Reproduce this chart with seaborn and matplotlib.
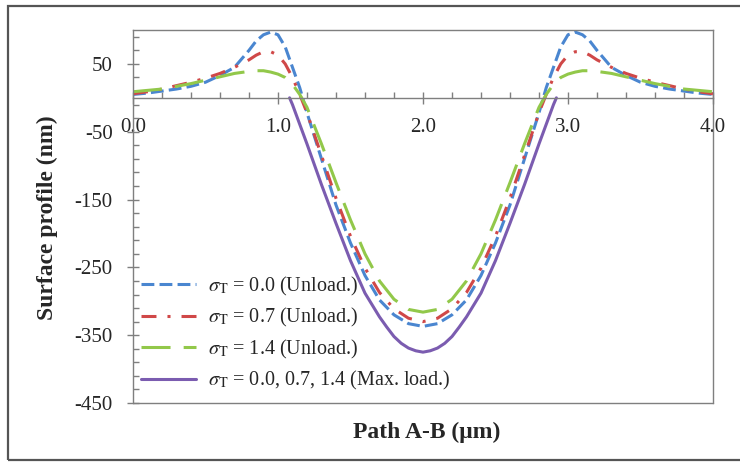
import numpy as np
import pandas as pd
import matplotlib
matplotlib.use("Agg")
import matplotlib.pyplot as plt
from matplotlib.patches import Rectangle
from matplotlib.ticker import MultipleLocator, FixedLocator, FormatStrFormatter
import seaborn as sns

# path positions (um) for the unloaded profiles
x_unload = [0.0, 0.1, 0.2, 0.3, 0.4, 0.5, 0.6, 0.7, 0.8, 0.85, 0.9, 0.95, 1.0, 1.05, 1.1, 1.15, 1.2,
            1.3, 1.4, 1.5, 1.6, 1.7, 1.8, 1.9, 2.0, 2.1, 2.2, 2.3, 2.4, 2.5, 2.6, 2.7, 2.8,
            2.85, 2.9, 2.95, 3.0, 3.05, 3.1, 3.15, 3.2, 3.3, 3.4, 3.5, 3.6, 3.7, 3.8, 3.9, 4.0]

# surface profile (nm)
y_unload_00 = [5, 7, 10, 13, 17, 23, 33, 45, 70, 84, 93, 97, 93, 75, 45, 15, -22,
               -90, -158, -214, -262, -298, -320, -333, -337, -333, -320, -298, -262, -214, -158, -90, -22,
               15, 45, 75, 93, 97, 93, 84, 70, 45, 33, 23, 17, 13, 10, 7, 5]
y_unload_07 = [6, 9, 13, 18, 23, 29, 36, 45, 56, 63, 68, 68, 63, 50, 30, 5, -22,
               -85, -148, -204, -251, -287, -311, -325, -330, -325, -311, -287, -251, -204, -148, -85, -22,
               5, 30, 50, 63, 68, 68, 63, 56, 45, 36, 29, 23, 18, 13, 9, 6]
y_unload_14 = [9, 11, 13, 17, 21, 26, 31, 36, 39, 40, 40, 38, 35, 30, 20, 5, -14,
               -68, -125, -180, -230, -270, -297, -312, -316, -312, -297, -270, -230, -180, -125, -68, -14,
               5, 20, 30, 35, 38, 40, 40, 39, 36, 31, 26, 21, 17, 13, 11, 9]

x_load = [1.08, 1.1, 1.2, 1.3, 1.4, 1.5, 1.6, 1.7, 1.75, 1.8, 1.85, 1.9, 1.95, 2.0,
          2.05, 2.1, 2.15, 2.2, 2.25, 2.3, 2.4, 2.5, 2.6, 2.7, 2.8, 2.9, 2.92]
y_load = [0, -10, -68, -128, -185, -240, -288, -323, -338, -352, -362, -369, -373, -375,
          -373, -369, -362, -352, -338, -323, -288, -240, -185, -128, -68, -10, 0]

labels = [r"$\sigma_\mathrm{T}$ = 0.0 (Unload.)",
          r"$\sigma_\mathrm{T}$ = 0.7 (Unload.)",
          r"$\sigma_\mathrm{T}$ = 1.4 (Unload.)",
          r"$\sigma_\mathrm{T}$ = 0.0, 0.7, 1.4 (Max. load.)"]

sns.set_style("white")
plt.rcParams["font.family"] = ["Liberation Serif", "DejaVu Serif"]
plt.rcParams["mathtext.fontset"] = "stix"
plt.rcParams["axes.unicode_minus"] = False

fig = plt.figure(figsize=(7.4, 4.62), dpi=100)
ax = fig.add_axes([0.1797, 0.1277, 0.7838, 0.8073])

df_u = pd.DataFrame({"x": x_unload, "a": y_unload_00, "b": y_unload_07, "c": y_unload_14})
df_l = pd.DataFrame({"x": x_load, "y": y_load})

lw = 2.2
sns.lineplot(data=df_u, x="x", y="a", ax=ax, color="#4a86d0", lw=lw,
             linestyle=(0, (4.2, 1.7)), label=labels[0])
sns.lineplot(data=df_u, x="x", y="b", ax=ax, color="#d04848", lw=lw,
             linestyle=(0, (4.9, 3.6, 1.0, 3.6)), label=labels[1])
sns.lineplot(data=df_u, x="x", y="c", ax=ax, color="#92c84a", lw=lw,
             linestyle=(0, (9.5, 4.3)), label=labels[2])
sns.lineplot(data=df_l, x="x", y="y", ax=ax, color="#7b5cb0", lw=lw,
             linestyle="-", label=labels[3])

ax.set_xlim(0, 4)
ax.set_ylim(-450, 100)

spine_c = "#7f7f7f"
for s in ax.spines.values():
    s.set_color(spine_c)
    s.set_linewidth(1.0)
ax.spines["bottom"].set_position(("data", 0))
ax.axhline(-450, color=spine_c, lw=1.0, clip_on=False, zorder=5)

ax.xaxis.set_major_locator(MultipleLocator(1.0))
ax.xaxis.set_minor_locator(MultipleLocator(0.2))
ax.xaxis.set_major_formatter(FormatStrFormatter("%.1f"))
ax.yaxis.set_major_locator(FixedLocator([50, -50, -150, -250, -350, -450]))
ax.yaxis.set_minor_locator(FixedLocator(list(range(90, -451, -20))))

ax.tick_params(axis="x", which="major", direction="inout", length=9, width=1.0,
               color=spine_c, labelsize=15, pad=10)
ax.tick_params(axis="x", which="minor", direction="in", length=4, width=1.0, color=spine_c)
ax.tick_params(axis="y", which="major", direction="inout", length=9, width=1.0,
               color=spine_c, labelsize=15, pad=10)
ax.tick_params(axis="y", which="minor", direction="in", length=4, width=1.0, color=spine_c)
ax.tick_params(bottom=True, left=True, which="both")

ax.set_xlabel("")
ax.set_ylabel("")
fig.text(0.064, 0.528, "Surface profile (nm)", rotation=90, ha="center", va="center",
         fontsize=17, fontweight="bold")
fig.text(0.576, 0.065, "Path A-B (\u03bcm)", ha="center", va="center",
         fontsize=17, fontweight="bold")

ax.legend(loc="lower left", bbox_to_anchor=(0.007, 0.018), frameon=False, fontsize=14.5,
          handlelength=2.75, handletextpad=0.55, labelspacing=0.42, borderaxespad=0, borderpad=0.2)

fig.patches.append(Rectangle((0.011, 0.004), 1.2, 0.983, transform=fig.transFigure,
                             fill=False, edgecolor="#555555", lw=1.6))

fig.savefig("out.png", dpi=100)
